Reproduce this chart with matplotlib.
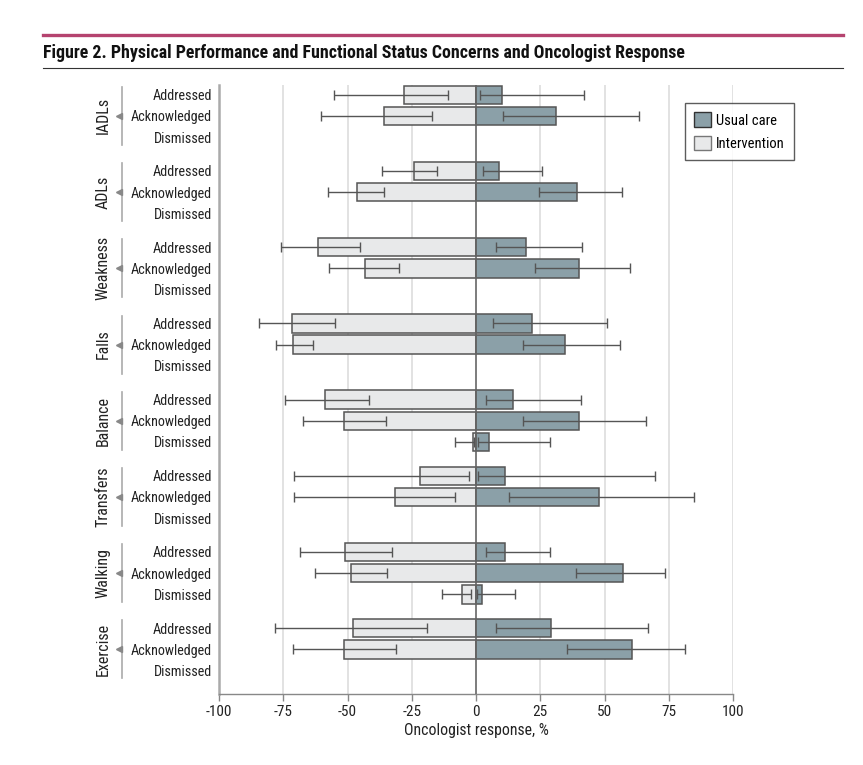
import numpy as np
import matplotlib
matplotlib.use('Agg')
import matplotlib.pyplot as plt
from matplotlib import font_manager as fm
from matplotlib.patches import Patch
from matplotlib.transforms import blended_transform_factory

nan = np.nan

# concern groups and the three response types shown for each
groups = ['IADLs', 'ADLs', 'Weakness', 'Falls', 'Balance', 'Transfers', 'Walking', 'Exercise']
responses = ['Addressed', 'Acknowledged', 'Dismissed']

# intervention arm (drawn to the left), per group: addressed, acknowledged, dismissed
interv = [-28.0, -35.9, nan,
          -24.0, -46.4, nan,
          -61.5, -43.3, nan,
          -71.7, -71.4, nan,
          -58.7, -51.5, -1.3,
          -21.8, -31.6, nan,
          -50.8, -48.6, -5.3,
          -48.0, -51.5, nan]
interv_lo = [-55.2, -60.4, nan,
             -36.4, -57.4, nan,
             -75.7, -57.2, nan,
             -84.4, -78.0, nan,
             -74.2, -67.4, -8.3,
             -70.8, -70.8, nan,
             -68.6, -62.8, -13.4,
             -78.1, -71.4, nan]
interv_hi = [-11.0, -17.1, nan,
             -15.0, -35.7, nan,
             -45.2, -30.1, nan,
             -54.8, -63.6, nan,
             -41.5, -35.1, -0.7,
             -2.9, -8.2, nan,
             -32.6, -34.7, -1.9,
             -19.2, -31.0, nan]

# usual care arm (drawn to the right)
usual = [10.3, 31.3, nan,
         9.0, 39.2, nan,
         19.4, 40.0, nan,
         21.6, 34.7, nan,
         14.5, 39.9, 5.0,
         11.2, 47.8, nan,
         11.2, 57.1, 2.2,
         29.2, 60.6, nan]
usual_lo = [1.6, 10.6, nan,
            2.6, 24.4, nan,
            7.6, 22.9, nan,
            6.8, 18.1, nan,
            3.8, 18.1, 0.6,
            0.7, 13.0, nan,
            3.7, 39.0, 0.3,
            7.6, 35.6, nan]
usual_hi = [41.9, 63.6, nan,
            25.7, 56.8, nan,
            41.1, 60.1, nan,
            50.8, 55.9, nan,
            40.8, 66.0, 28.8,
            69.5, 84.7, nan,
            28.8, 73.4, 15.0,
            66.9, 81.2, nan]

xticks = [-100, -75, -50, -25, 0, 25, 50, 75, 100]


def pick_font():
    """find a narrow sans if one is installed, otherwise plain Roboto"""
    entries = fm.fontManager.ttflist
    for name in ['Liberation Sans Narrow', 'Roboto Condensed', 'Open Sans Condensed']:
        if any(f.name == name for f in entries):
            return name, 'normal'
    for name in ['Noto Sans', 'DejaVu Sans', 'Open Sans', 'Roboto']:
        if any(f.name == name and f.stretch == 'condensed' for f in entries):
            return name, 'condensed'
    return 'Roboto', 'normal'


font_name, font_stretch = pick_font()
plt.rcParams['font.family'] = [font_name, 'DejaVu Sans']
plt.rcParams['font.stretch'] = font_stretch
plt.rcParams['axes.unicode_minus'] = False

USUAL_C = '#8ba0a8'
INTERV_C = '#e8e9ea'
EDGE_C = '#555555'
TEXT_C = '#222222'

W, H = 863, 765
fig = plt.figure(figsize=(W / 100, H / 100), dpi=100)

# header: coloured rule, title, thin black rule
fig.add_artist(plt.Line2D([43 / W, 843 / W], [1 - 35 / H] * 2, color='#b5436f', lw=2.4))
fig.text(43 / W, 1 - 58 / H, 'Figure 2. Physical Performance and Functional Status Concerns and Oncologist Response',
         fontsize=12.9, fontweight='bold', color='#111111', va='baseline', ha='left')
fig.add_artist(plt.Line2D([43 / W, 843 / W], [1 - 68 / H] * 2, color='#333333', lw=0.8))

ax = fig.add_axes([219 / W, 71 / H, (733 - 219) / W, (694 - 85) / H])

# row positions: 3 rows per group, groups separated by a gap
gap = 3.6
ypos = []
for g in range(len(groups)):
    for r in range(len(responses)):
        ypos.append(g * gap + r)
ypos = np.array(ypos)
labels = responses * len(groups)

interv = np.array(interv)
usual = np.array(usual)
bar_h = 0.87

ax.barh(ypos, interv, height=bar_h, color=INTERV_C, edgecolor=EDGE_C, linewidth=1.1, zorder=2)
ax.barh(ypos, usual, height=bar_h, color=USUAL_C, edgecolor=EDGE_C, linewidth=1.1, zorder=2)

ilo, ihi = np.array(interv_lo), np.array(interv_hi)
ulo, uhi = np.array(usual_lo), np.array(usual_hi)
ax.errorbar(interv, ypos, xerr=[interv - ilo, ihi - interv], fmt='none', ecolor='#555555',
            elinewidth=1.0, capsize=3.4, capthick=1.0, zorder=3)
ax.errorbar(usual, ypos, xerr=[usual - ulo, uhi - usual], fmt='none', ecolor='#555555',
            elinewidth=1.0, capsize=3.4, capthick=1.0, zorder=3)

ax.axvline(0, color='#666666', lw=1.2, zorder=4)
for t in xticks[1:]:
    if t != 0:
        ax.axvline(t, color='#dddddd', lw=1.2, zorder=0)

ax.set_xlim(-100, 100)
ax.set_ylim(ypos[-1] + 1.11, -0.46)
ax.set_xticks(xticks)
ax.set_xticklabels([str(t) for t in xticks], fontsize=11, color=TEXT_C)
ax.set_yticks(ypos)
ax.set_yticklabels(labels, fontsize=10.2, color=TEXT_C)
ax.tick_params(axis='y', length=0, pad=5)
ax.tick_params(axis='x', length=5, width=1.0, color='#888888', pad=3)
ax.set_xlabel('Oncologist response, %', fontsize=11.3, color=TEXT_C, labelpad=3)

for s in ['top', 'right']:
    ax.spines[s].set_visible(False)
ax.spines['left'].set_color('#aaaaaa')
ax.spines['left'].set_linewidth(1.8)
ax.spines['bottom'].set_color('#888888')
ax.spines['bottom'].set_linewidth(1.0)

# group labels with side brackets
trans = blended_transform_factory(fig.transFigure, ax.transData)
for g, name in enumerate(groups):
    top = g * gap
    ax.plot([122 / W, 122 / W], [top - 0.37, top + 2 + 0.37], color='#aaaaaa', lw=1.2,
            transform=trans, clip_on=False)
    ax.plot([119 / W], [top + 1], marker='<', markersize=4, color='#888888',
            transform=trans, clip_on=False)
    ax.text(103 / W, top + 1, name, rotation=90, ha='center', va='center', fontsize=11.5,
            color=TEXT_C, transform=trans)

handles = [Patch(facecolor=USUAL_C, edgecolor='#333333', lw=1.0, label='Usual care'),
           Patch(facecolor=INTERV_C, edgecolor='#777777', lw=1.0, label='Intervention')]
leg = fig.legend(handles=handles, loc='upper left', bbox_to_anchor=(685 / W, 1 - 103 / H),
                 frameon=True, fancybox=False, edgecolor='#333333', fontsize=10.5,
                 handlelength=1.15, handleheight=1.15, handletextpad=0.32, borderpad=0.65,
                 labelspacing=0.55, borderaxespad=0)
leg.get_frame().set_linewidth(1.0)

fig.savefig('out.png', dpi=100)
